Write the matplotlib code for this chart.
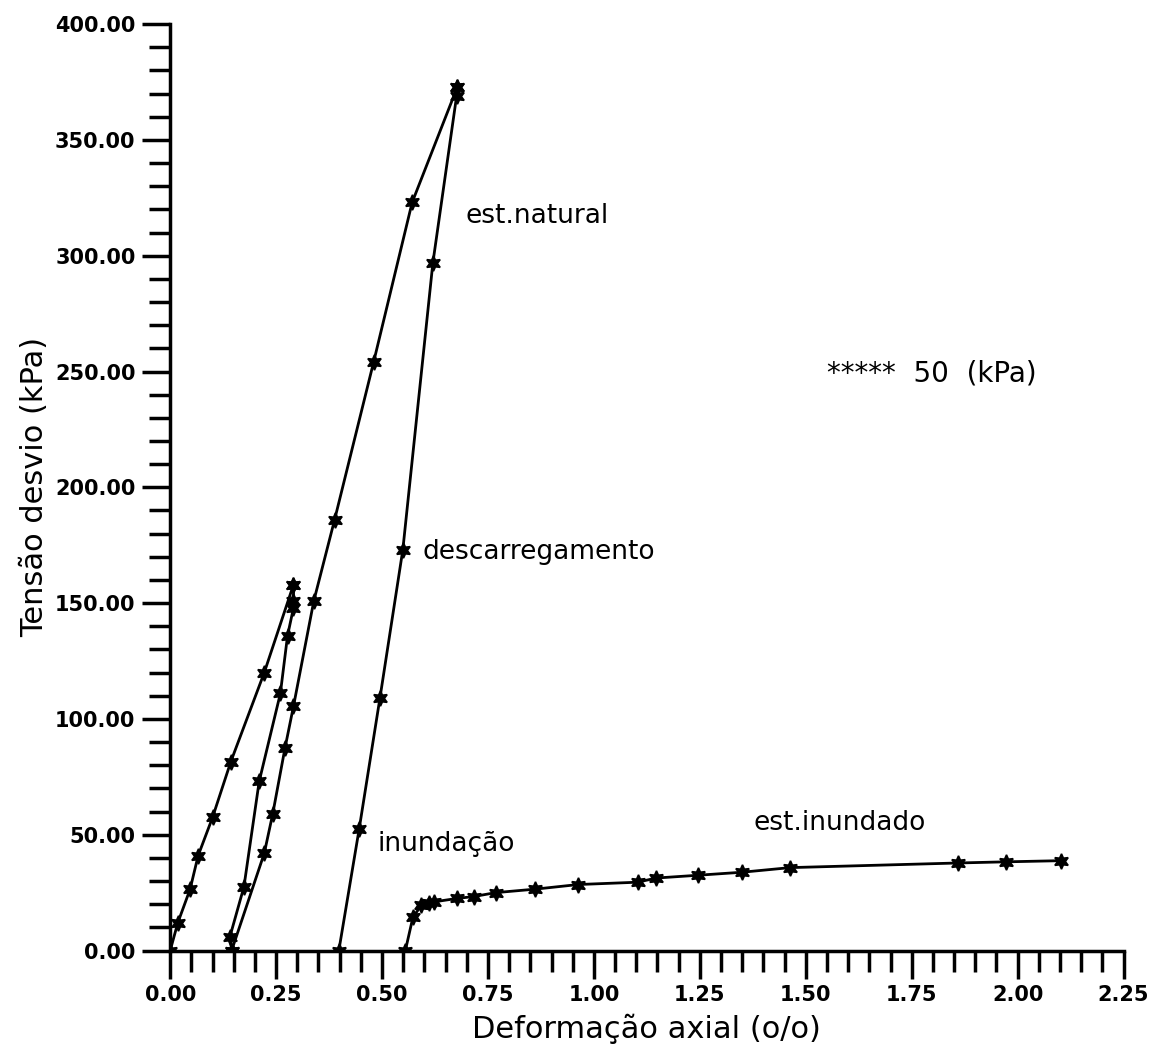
import matplotlib
matplotlib.use("Agg")
import matplotlib.pyplot as plt
from matplotlib.ticker import MultipleLocator, FormatStrFormatter

# natural state: first loading
load1_x = [0.0, 0.018, 0.047, 0.066, 0.10, 0.143, 0.222, 0.291]
load1_y = [0.0, 12, 26.5, 41, 57.5, 81.5, 120, 158]

# first unloading
unload1_x = [0.291, 0.291, 0.291, 0.277, 0.26, 0.21, 0.174, 0.141, 0.145]
unload1_y = [158, 151, 148, 136, 111, 73, 27.5, 6, 0]

# reloading up to peak
reload_x = [0.145, 0.222, 0.242, 0.271, 0.291, 0.339, 0.388, 0.48, 0.571, 0.678]
reload_y = [0.0, 42, 59, 87.5, 105.5, 151, 186, 254, 323, 373]

# descarregamento
unload2_x = [0.678, 0.676, 0.62, 0.549, 0.495, 0.446, 0.398]
unload2_y = [373, 369, 297, 173, 109, 52.5, 0]

# inundated state
inund_x = [0.555, 0.573, 0.593, 0.61, 0.622, 0.677, 0.716, 0.768, 0.861, 0.963,
           1.103, 1.147, 1.245, 1.349, 1.463, 1.859, 1.972, 2.103]
inund_y = [0.0, 14.5, 19.5, 20.5, 21, 22.5, 23.3, 25, 26.5, 28.5,
           29.5, 31.3, 32.5, 33.8, 35.8, 37.8, 38.3, 38.8]


def main():
    fig = plt.figure(figsize=(11.5, 10.48), dpi=100)
    ax = fig.add_axes([0.148, 0.093, 0.829, 0.884])

    style = dict(color="black", lw=2, marker=(6, 1, 0), ms=11, mew=1.2)
    for xs, ys in [(load1_x, load1_y), (unload1_x, unload1_y),
                   (reload_x, reload_y), (unload2_x, unload2_y),
                   (inund_x, inund_y)]:
        ax.plot(xs, ys, **style)

    ax.set_xlim(0, 2.25)
    ax.set_ylim(0, 400)
    ax.spines["top"].set_visible(False)
    ax.spines["right"].set_visible(False)
    ax.spines["left"].set_linewidth(2.5)
    ax.spines["bottom"].set_linewidth(2.5)

    ax.xaxis.set_major_locator(MultipleLocator(0.25))
    ax.xaxis.set_minor_locator(MultipleLocator(0.05))
    ax.yaxis.set_major_locator(MultipleLocator(50))
    ax.yaxis.set_minor_locator(MultipleLocator(10))
    ax.xaxis.set_major_formatter(FormatStrFormatter("%.2f"))
    ax.yaxis.set_major_formatter(FormatStrFormatter("%.2f"))
    ax.tick_params(which="major", direction="out", length=20, width=2.5,
                   labelsize=15, pad=5)
    ax.tick_params(which="minor", direction="out", length=15, width=2.5)
    for lab in ax.get_xticklabels() + ax.get_yticklabels():
        lab.set_fontweight("bold")

    ax.set_xlabel("Deformação axial (o/o)", fontsize=22, labelpad=6)
    ax.set_ylabel("Tensão desvio (kPa)", fontsize=22, labelpad=4)

    ax.text(0.697, 317, "est.natural", fontsize=19, va="center")
    ax.text(0.595, 172, "descarregamento", fontsize=19, va="center")
    ax.text(0.49, 46, "inundação", fontsize=19, va="center")
    ax.text(1.377, 55, "est.inundado", fontsize=19, va="center")
    ax.text(1.55, 249, "*****  50  (kPa)", fontsize=20, va="center")

    fig.savefig("out.png", dpi=100)


if __name__ == "__main__":
    main()
